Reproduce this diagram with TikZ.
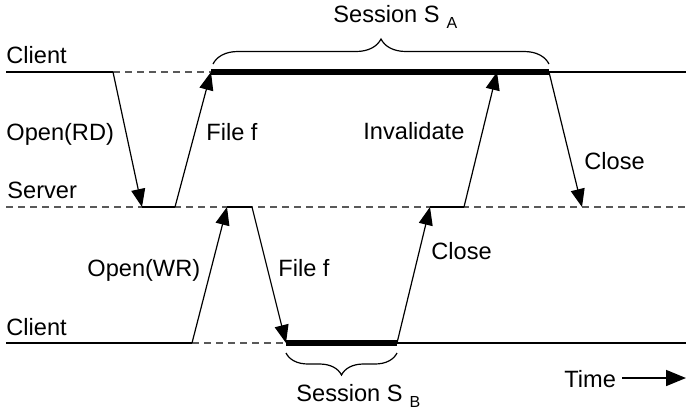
\documentclass[tikz,border=0pt]{standalone}
\usepackage{fontspec}
\setmainfont{Liberation Sans}
\usetikzlibrary{arrows.meta,decorations.pathreplacing}

\newcommand{\sessionof}[1]{Session S\hspace{3.5pt}\raisebox{-3pt}{\fontsize{8}{9}\selectfont #1}}

\begin{document}
\begin{tikzpicture}[x=0.5pt, y=-0.5pt,
    every node/.style={font=\fontsize{11.8}{14}\selectfont, inner sep=0pt},
    lane/.style={line width=1.2pt},
    idle/.style={line width=0.8pt, black!65, dash pattern=on 3.5pt off 2.5pt},
    busy/.style={line width=2.6pt},
    msg/.style={-{Triangle[length=9pt,width=7pt]}, line width=0.6pt},
    sess/.style={decorate, line width=0.6pt, decoration={brace, amplitude=#1}}]
  \useasboundingbox (0,0) rectangle (692,409);

  % Points on the top client line
  \coordinate (ta) at (6,72);
  \coordinate (tb) at (113,72);
  \coordinate (tc) at (211,72);
  \coordinate (td) at (497,72);
  \coordinate (te) at (549,72);
  \coordinate (tf) at (686,72);

  % Points on the server line
  \coordinate (sa) at (6,207);
  \coordinate (sb) at (142,207);
  \coordinate (sc) at (175,207);
  \coordinate (sd) at (227,207);
  \coordinate (se) at (252,207);
  \coordinate (sf) at (430,207);
  \coordinate (sg) at (464,207);
  \coordinate (sh) at (582,207);
  \coordinate (si) at (686,207);

  % Points on the bottom client line
  \coordinate (ba) at (6,343);
  \coordinate (bb) at (192,343);
  \coordinate (bc) at (286,343);
  \coordinate (bd) at (397,343);
  \coordinate (be) at (686,343);

  % Time axis
  \coordinate (ts) at (622,378);
  \coordinate (tt) at (686,378);

  % Lines
  \draw[lane] (ta) -- (tb);
  \draw[idle] (tb) -- (tc);
  \draw[busy] (tc) -- (te);
  \draw[lane] (te) -- (tf);

  \draw[idle] (sa) -- (si);
  \draw[lane] (sb) -- (sc);
  \draw[lane] (sd) -- (se);
  \draw[lane] (sf) -- (sg);

  \draw[lane] (ba) -- (bb);
  \draw[idle] (bb) -- (bc);
  \draw[busy] (bc) -- (bd);
  \draw[lane] (bd) -- (be);

  % Nodes
  \node[anchor=base west] (client1) at (6,63) {Client};
  \node[anchor=base west] (server) at (7,198) {Server};
  \node[anchor=base west] (client2) at (6,335) {Client};
  \node[anchor=base west] (openrd) at (6,140) {Open(RD)};
  \node[anchor=base west] (file1) at (206,140) {File f};
  \node[anchor=base west] (inval) at (363,139) {Invalidate};
  \node[anchor=base west] (close1) at (584,169) {Close};
  \node[anchor=base west] (openwr) at (87,276) {Open(WR)};
  \node[anchor=base west] (file2) at (278,276) {File f};
  \node[anchor=base west] (close2) at (431,259) {Close};
  \node[anchor=base west] (time) at (564,387) {Time};
  \node[anchor=base west] (sessa) at (333,22) {\sessionof{A}};
  \node[anchor=base west] (sessb) at (296,401) {\sessionof{B}};

  % Arrows
  \draw[msg] (tb) to (sb);
  \draw[msg] (sc) to (tc);
  \draw[msg] (bb) to (sd);
  \draw[msg] (se) to (bc);
  \draw[msg] (bd) to (sf);
  \draw[msg] (sg) to (td);
  \draw[msg] (te) to (sh);
  \draw[-{Triangle[length=10pt,width=8pt]}, line width=0.8pt] (ts) to (tt);

  % Sessions
  \draw[sess=12.5pt] (213,64) -- (549,64);
  \draw[sess=11pt, decoration={mirror}] (286,353) -- (397,353);
\end{tikzpicture}
\end{document}
